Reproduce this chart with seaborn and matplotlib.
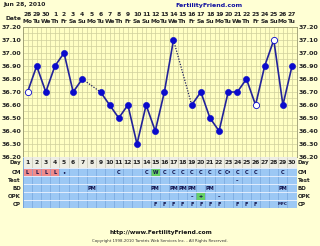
import numpy as np
import pandas as pd
import matplotlib
matplotlib.use("Agg")
import matplotlib.pyplot as plt
from matplotlib.patches import Rectangle
from matplotlib.transforms import blended_transform_factory as btf
import seaborn as sns

# ---------------- data ----------------
chart_date = "Jun 28, 2010"
site_name = "FertilityFriend.com"
footer_url = "http://www.FertilityFriend.com"
footer_copy = "Copyright 1998-2010 Tamtris Web Services Inc. - All Rights Reserved."

days = list(range(1, 31))
dates = ["28", "29", "30", "1", "2", "3", "4", "5", "6", "7", "8", "9", "10", "11", "12",
         "13", "14", "15", "16", "17", "18", "19", "20", "21", "22", "23", "24", "25", "26", "27"]
weekdays = ["Mo", "Tu", "We", "Th", "Fr", "Sa", "Su", "Mo", "Tu", "We", "Th", "Fr", "Sa", "Su", "Mo",
            "Tu", "We", "Th", "Fr", "Sa", "Su", "Mo", "Tu", "We", "Th", "Fr", "Sa", "Su", "Mo", "Tu"]
temps = [36.70, 36.90, 36.70, 36.90, 37.00, 36.70, 36.80, np.nan, 36.70, 36.60,
         36.50, 36.60, 36.30, 36.60, 36.40, 36.70, 37.10, np.nan, 36.60, 36.70,
         36.50, 36.40, 36.70, 36.70, 36.80, 36.60, 36.90, 37.10, 36.60, 36.90]
open_days = [1, 26, 28]
temp_ticks = [36.20, 36.30, 36.40, 36.50, 36.60, 36.70, 36.80, 36.90, 37.00, 37.10, 37.20]

cm_row = ["L", "L", "L", "L", "•", "", "", "", "", "", "C", "", "", "C", "W",
          "C", "C", "C", "C", "C", "C", "C", "C•", "C", "C", "C", "", "", "C", ""]
cm_hl = {1: "pink", 2: "pink", 3: "pink", 4: "pink", 15: "green"}
test_row = ["", "", "", "", "", "", "", "", "", "", "", "", "", "", "",
            "", "", "", "", "", "", "", "", "–", "", "", "", "", "", ""]
bd_row = ["", "", "", "", "", "", "", "PM", "", "", "", "", "", "", "PM",
          "", "PM", "PM", "PM", "", "PM", "", "", "", "", "", "", "", "PM", ""]
opk_row = ["", "", "", "", "", "", "", "", "", "", "", "", "", "", "",
           "", "", "", "–", "+", "", "–", "", "", "", "", "", "", "", ""]
opk_hl = {20: "green"}
cp_row = ["", "", "", "", "", "", "", "", "", "", "", "", "", "", "F",
          "F", "F", "F", "F", "F", "F", "F", "", "F", "F", "F", "", "", "MFC", ""]
row_names = ["Day", "CM", "Test", "BD", "OPK", "CP"]

# ---------------- style ----------------
BG = "#FFFFD4"
PLOT_BG = "#FFFFC4"
GRID = "#CFCF9C"
LINE = "#22229A"
PT = "#0A0ACC"
TBL = "#9CC8F4"
TBL_LINE = "#6F9DD6"
DAY_BG = "#EEEEE4"
PINK = "#F08C8C"
GREEN = "#66D066"
TXT = "#10104A"

sns.set_theme(style="white")
plt.rcParams["font.family"] = ["DejaVu Sans"]
plt.rcParams["font.weight"] = "bold"

W, H = 320, 246
fig = plt.figure(figsize=(W / 100, H / 100), dpi=100, facecolor=BG)

L, R = 23, 296.6
T, B = 27, 157
ax = fig.add_axes([L / W, 1 - B / H, (R - L) / W, (B - T) / H])
ax.set_facecolor(PLOT_BG)
ax.set_xlim(0.5, 30.5)
ax.set_ylim(36.2, 37.2)
ax.set_xticks(np.arange(0.5, 30.51, 0.5))
ax.set_yticks(temp_ticks)
ax.set_yticklabels([f"{v:.2f}" for v in temp_ticks])
ax.set_yticks(np.arange(36.25, 37.2, 0.1), minor=True)
ax.grid(which="both", color=GRID, lw=0.5)
ax.set_axisbelow(True)
ax.tick_params(axis="x", which="both", length=0, labelbottom=False)
ax.tick_params(axis="y", which="both", length=0, labelleft=True, labelright=True,
               labelsize=4.5, pad=1.5, labelcolor="#222222")
for s in ax.spines.values():
    s.set_color("#9A9A70")
    s.set_linewidth(0.6)

df = pd.DataFrame({"day": days, "temp": temps})
df["seg"] = df["temp"].isna().cumsum()
df["open"] = df["day"].isin(open_days)
valid = df.dropna(subset=["temp"])
sns.lineplot(data=valid, x="day", y="temp", units="seg", estimator=None,
             color=LINE, lw=1.2, ax=ax, legend=False, zorder=2)
# dotted bridges over missing days
for i in df.index[df["temp"].isna()]:
    before = valid[valid["day"] < df.loc[i, "day"]].iloc[-1]
    after = valid[valid["day"] > df.loc[i, "day"]].iloc[0]
    ax.plot([before["day"], after["day"]], [before["temp"], after["temp"]],
            ls=(0, (1, 1.2)), color="#202060", lw=0.9, zorder=2)
sns.scatterplot(data=valid[~valid["open"]], x="day", y="temp", s=20, color=PT,
                edgecolor=PT, linewidth=0.4, ax=ax, zorder=3, legend=False)
sns.scatterplot(data=valid[valid["open"]], x="day", y="temp", s=20, color="white",
                edgecolor=PT, linewidth=0.6, ax=ax, zorder=3, legend=False)
ax.set_xlabel("")
ax.set_ylabel("")

# date header
tr_top = btf(ax.transData, fig.transFigure)
for d, dt, wd in zip(days, dates, weekdays):
    ax.text(d, 1 - 15 / H, dt, transform=tr_top, ha="center", va="center",
            fontsize=4.3, color="#222222")
    ax.text(d, 1 - 21.5 / H, wd, transform=tr_top, ha="center", va="center",
            fontsize=4.3, color="#222222")
fig.text(21 / W, 1 - 18 / H, "Date", ha="right", va="center", fontsize=4.3, color="#222222")
fig.text(3 / W, 1 - 4.5 / H, chart_date, ha="left", va="center", fontsize=4.3, color="#222222")
fig.text(209 / W, 1 - 5 / H, site_name, ha="center", va="center", fontsize=4.5, color="#1010A0")

# ---------------- table ----------------
TB = 208
tax = fig.add_axes([L / W, 1 - TB / H, (R - L) / W, (TB - B) / H])
tax.set_xlim(0.5, 30.5)
tax.set_ylim(TB, B)
tax.axis("off")
rows_y = [(157, 168), (168, 176), (176, 184), (184, 192), (192, 200), (200, 208)]
tax.axhspan(157, 168, color=DAY_BG, lw=0)
tax.axhspan(168, 208, color=TBL, lw=0)
for d, c in cm_hl.items():
    tax.add_patch(Rectangle((d - 0.5, 168.6), 1, 7, color=PINK if c == "pink" else GREEN, lw=0))
for d, c in opk_hl.items():
    tax.add_patch(Rectangle((d - 0.5, 192.6), 1, 7, color=GREEN, lw=0))
tax.vlines(np.arange(1.5, 30.5, 1), 157, 168, color="#C4C4B4", lw=0.5)
tax.vlines(np.arange(1.5, 30.5, 1), 168, 208, color=TBL_LINE, lw=0.4)
tax.hlines([168, 176, 184, 192, 200], 0.5, 30.5, color="#EEF4FF", lw=0.6)
tax.hlines([208], 0.5, 30.5, color=TBL_LINE, lw=0.6)
tax.vlines([0.5, 30.5], 157, 208, color=TBL_LINE, lw=0.6)

for d in days:
    tax.text(d, 163, str(d), ha="center", va="center", fontsize=4.3, color="#222222")
for row, (y0, y1) in zip([cm_row, test_row, bd_row, opk_row, cp_row], rows_y[1:]):
    for d, v in zip(days, row):
        if v:
            tax.text(d, (y0 + y1) / 2 + 0.3, v, ha="center", va="center",
                     fontsize=3.6 if len(v) < 3 else 3.0, color=TXT)

tr_lbl = btf(fig.transFigure, tax.transData)
for name, (y0, y1) in zip(row_names, rows_y):
    yc = (y0 + y1) / 2 + 0.3
    tax.text(21 / W, yc, name, transform=tr_lbl, ha="right", va="center",
             fontsize=4.0, color="#222222")
    tax.text(298 / W, yc, name, transform=tr_lbl, ha="left", va="center",
             fontsize=4.0, color="#222222")

# footer
fig.text(161 / W, 1 - 232.5 / H, footer_url, ha="center", va="center", fontsize=4.2, color="#111111")
fig.text(160 / W, 1 - 241 / H, footer_copy, ha="center", va="center", fontsize=2.8,
         color="#333333", fontweight="normal")

fig.savefig("out.png", dpi=100, facecolor=BG)
